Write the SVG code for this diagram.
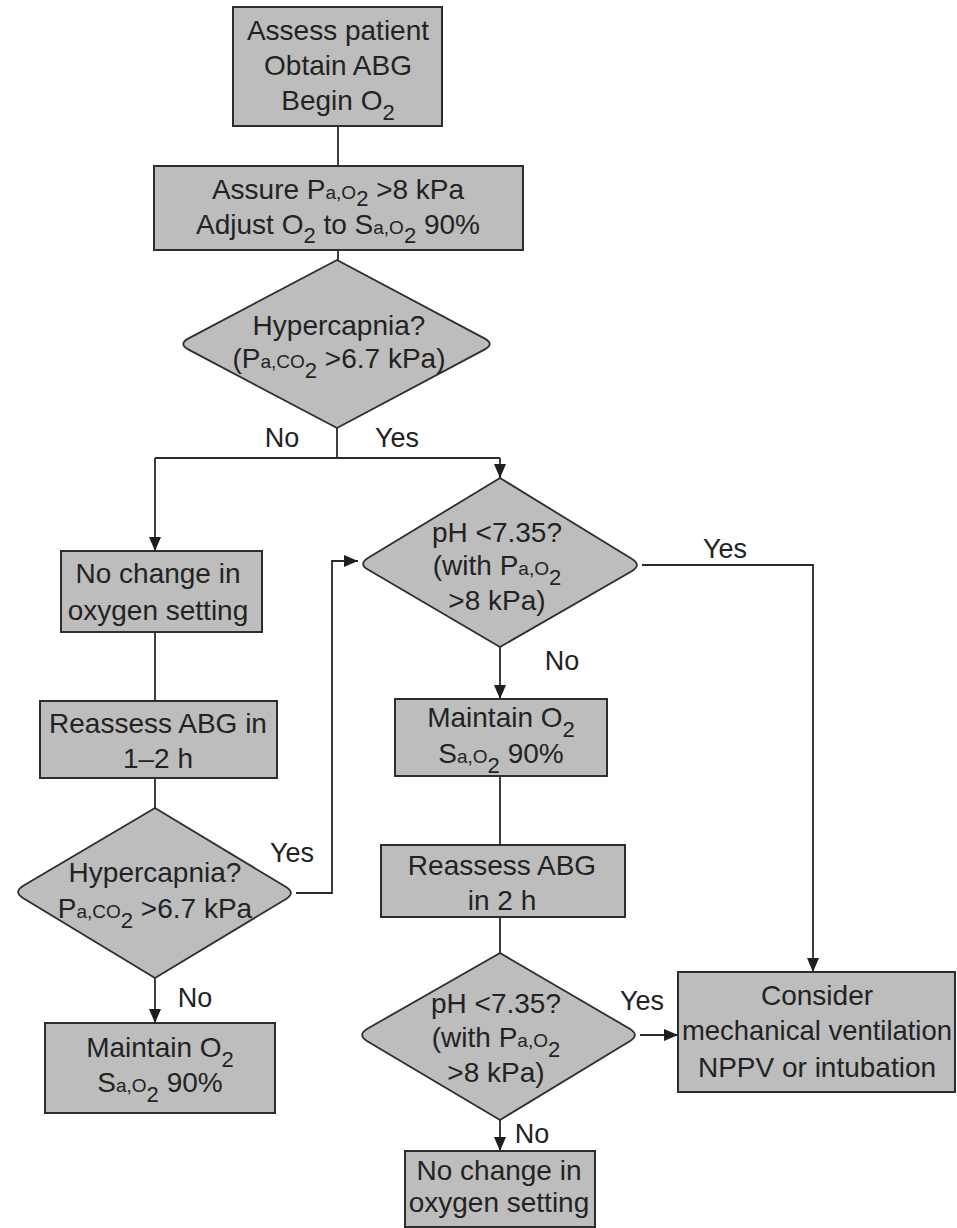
<svg xmlns="http://www.w3.org/2000/svg" width="957" height="1228" viewBox="0 0 957 1228">
  <defs>
    <style>
      .box { fill: #bdbdbd; stroke: #2e2e2e; stroke-width: 2; }
      .dec { fill: #bdbdbd; stroke: #2e2e2e; stroke-width: 1.8; stroke-linejoin: round; }
      .t { font-family: "Liberation Sans", Arial, sans-serif; font-size: 28px; fill: #232323; text-anchor: middle; }
      .lbl { font-family: "Liberation Sans", Arial, sans-serif; font-size: 27px; fill: #232323; text-anchor: middle; }
      .sm { font-size: 19px; }
      .sb { font-size: 22px; }
      .edge { fill: none; stroke: #2a2a2a; stroke-width: 1.8; }
    </style>
    <marker id="arrow" markerUnits="userSpaceOnUse" markerWidth="14" markerHeight="14" viewBox="0 0 14 14" refX="14" refY="7" orient="auto">
      <path d="M0,1 L14,7 L0,13 Z" fill="#1e1e1e"/>
    </marker>
  </defs>

  <rect width="957" height="1228" fill="#ffffff"/>

  <!-- connectors -->
  <g id="connectors">
    <path class="edge" d="M338,126 V166"/>
    <path class="edge" d="M338,250 V260"/>
    <path class="edge" d="M337,428 V458"/>
    <path class="edge" d="M155,458 H500"/>
    <path class="edge" d="M155,458 V551" marker-end="url(#arrow)"/>
    <path class="edge" d="M500,458 V478" marker-end="url(#arrow)"/>
    <path class="edge" d="M642,565 H813 V972" marker-end="url(#arrow)"/>
    <path class="edge" d="M500,647 V699" marker-end="url(#arrow)"/>
    <path class="edge" d="M500,776 V845"/>
    <path class="edge" d="M500,917 V953"/>
    <path class="edge" d="M640,1035 H678" marker-end="url(#arrow)"/>
    <path class="edge" d="M500,1120 V1151" marker-end="url(#arrow)"/>
    <path class="edge" d="M155,632 V701"/>
    <path class="edge" d="M155,778 V808"/>
    <path class="edge" d="M296,893 H332 V561 H358" marker-end="url(#arrow)"/>
    <path class="edge" d="M155,978 V1023" marker-end="url(#arrow)"/>
  </g>

  <!-- edge labels -->
  <g id="edge-labels">
    <text class="lbl" x="282" y="447">No</text>
    <text class="lbl" x="397" y="447">Yes</text>
    <text class="lbl" x="725" y="558">Yes</text>
    <text class="lbl" x="562" y="670">No</text>
    <text class="lbl" x="292" y="862">Yes</text>
    <text class="lbl" x="195" y="1007">No</text>
    <text class="lbl" x="642" y="1010">Yes</text>
    <text class="lbl" x="532" y="1143">No</text>
  </g>

  <g id="assess">
    <rect class="box" x="233" y="7" width="209" height="119"/>
    <text class="t" x="338" y="40">Assess patient</text>
    <text class="t" x="338" y="75">Obtain ABG</text>
    <text class="t" x="338" y="110">Begin O<tspan class="sb" dy="10">2</tspan></text>
  </g>

  <g id="assure">
    <rect class="box" x="154" y="166" width="369" height="84"/>
    <text class="t" x="338" y="199">Assure P<tspan class="sm">a,O</tspan><tspan class="sb" dy="7">2</tspan><tspan dy="-7"> &gt;8 kPa</tspan></text>
    <text class="t" x="338" y="234">Adjust O<tspan class="sb" dy="9">2</tspan><tspan dy="-9"> to S</tspan><tspan class="sm">a,O</tspan><tspan class="sb" dy="9">2</tspan><tspan dy="-9"> 90%</tspan></text>
  </g>

  <g id="hypercapnia-1">
    <path class="dec" d="M337,260 L484.4,338.4 Q495,344 484.4,349.6 L337,428 L188.6,349.6 Q178,344 188.6,338.4 Z"/>
    <text class="t" x="339" y="335">Hypercapnia?</text>
    <text class="t" x="339" y="368">(P<tspan class="sm">a,CO</tspan><tspan class="sb" dy="10">2</tspan><tspan dy="-10"> &gt;6.7 kPa)</tspan></text>
  </g>

  <g id="ph-1">
    <path class="dec" d="M500,478 L631.7,558.8 Q642,565 631.7,571.2 L500,647 L368.3,569.8 Q358,564 368.3,557.8 Z"/>
    <text class="t" x="497" y="542">pH &lt;7.35?</text>
    <text class="t" x="497" y="575">(with P<tspan class="sm">a,O</tspan><tspan class="sb" dy="10">2</tspan></text>
    <text class="t" x="497" y="610">&gt;8 kPa)</text>
  </g>

  <g id="no-change-1">
    <rect class="box" x="61" y="551" width="201" height="81"/>
    <text class="t" x="158" y="583">No change in</text>
    <text class="t" x="158" y="620">oxygen setting</text>
  </g>

  <g id="reassess-1">
    <rect class="box" x="40" y="701" width="237" height="77"/>
    <text class="t" x="158" y="733">Reassess ABG in</text>
    <text class="t" x="158" y="768">1–2 h</text>
  </g>

  <g id="hypercapnia-2">
    <path class="dec" d="M155,808 L285.7,886.8 Q296,893 285.7,899.2 L155,978 L23.3,898.2 Q13,892 23.3,885.8 Z"/>
    <text class="t" x="155" y="882">Hypercapnia?</text>
    <text class="t" x="155" y="918">P<tspan class="sm">a,CO</tspan><tspan class="sb" dy="10">2</tspan><tspan dy="-10"> &gt;6.7 kPa</tspan></text>
  </g>

  <g id="maintain-1">
    <rect class="box" x="45" y="1023" width="230" height="90"/>
    <text class="t" x="160" y="1057">Maintain O<tspan class="sb" dy="10">2</tspan></text>
    <text class="t" x="160" y="1092">S<tspan class="sm">a,O</tspan><tspan class="sb" dy="10">2</tspan><tspan dy="-10"> 90%</tspan></text>
  </g>

  <g id="maintain-2">
    <rect class="box" x="395" y="699" width="212" height="77"/>
    <text class="t" x="501" y="727">Maintain O<tspan class="sb" dy="10">2</tspan></text>
    <text class="t" x="501" y="763">S<tspan class="sm">a,O</tspan><tspan class="sb" dy="10">2</tspan><tspan dy="-10"> 90%</tspan></text>
  </g>

  <g id="reassess-2">
    <rect class="box" x="381" y="845" width="244" height="72"/>
    <text class="t" x="502" y="875">Reassess ABG</text>
    <text class="t" x="502" y="910">in 2 h</text>
  </g>

  <g id="ph-2">
    <path class="dec" d="M500,953 L629.7,1028.8 Q640,1035 629.7,1041.2 L500,1120 L367.3,1041.2 Q357,1035 367.3,1028.8 Z"/>
    <text class="t" x="496" y="1013">pH &lt;7.35?</text>
    <text class="t" x="496" y="1047">(with P<tspan class="sm">a,O</tspan><tspan class="sb" dy="10">2</tspan></text>
    <text class="t" x="496" y="1082">&gt;8 kPa)</text>
  </g>

  <g id="ventilation">
    <rect class="box" x="678" y="972" width="277" height="120"/>
    <text class="t" x="817" y="1005">Consider</text>
    <text class="t" x="817" y="1040" textLength="270" lengthAdjust="spacingAndGlyphs">mechanical ventilation</text>
    <text class="t" x="817" y="1077">NPPV or intubation</text>
  </g>

  <g id="no-change-2">
    <rect class="box" x="405" y="1151" width="190" height="76"/>
    <text class="t" x="499" y="1180">No change in</text>
    <text class="t" x="499" y="1212">oxygen setting</text>
  </g>
</svg>
